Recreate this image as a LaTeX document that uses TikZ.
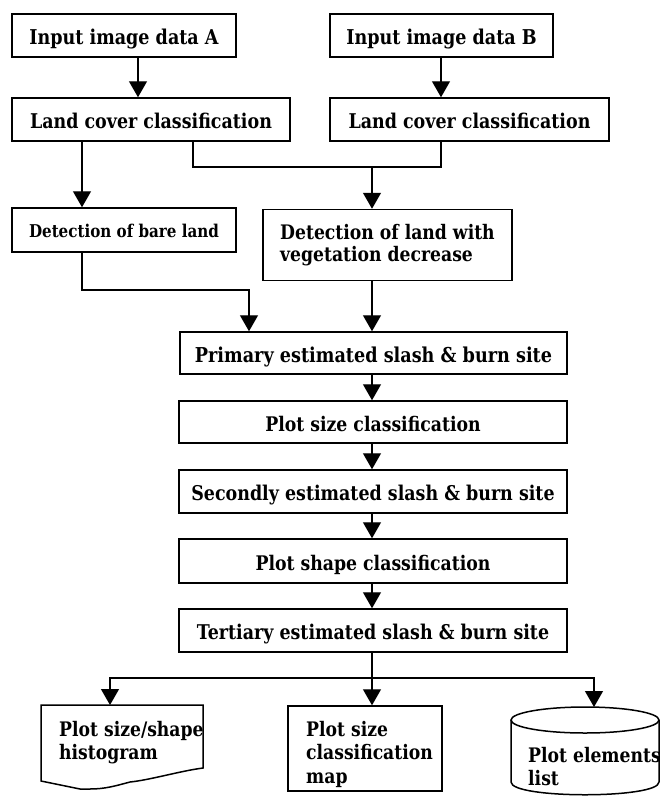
\documentclass[tikz,border=0pt]{standalone}
\usepackage{fontspec}
\setmainfont{DejaVu Serif}[FakeStretch=0.86]
\usetikzlibrary{arrows.meta}
\begin{document}
\begin{tikzpicture}[x=1pt,y=-1pt,
  box/.style={draw, line width=1.5pt, inner sep=0pt},
  one/.style={text height=18pt, text depth=0pt},
  conn/.style={line width=1.2pt},
  arr/.style={conn, -{Triangle[width=18pt,length=16pt]}},
  fs/.style 2 args={font=\bfseries\fontsize{#1}{#2}\selectfont}]
\useasboundingbox (0,0) rectangle (661,796);
% top boxes
\node[box, one, fs={20.4}{23}, minimum width=224pt, minimum height=43pt] (A) at (124,35.5) {Input image data A};
\node[box, one, fs={20.4}{23}, minimum width=223pt, minimum height=43pt] (B) at (441.5,35.5) {Input image data B};
\node[box, one, fs={20.3}{23}, minimum width=278pt, minimum height=43pt] (LCA) at (151,119.5) {Land cover classification};
\node[box, one, fs={20.3}{23}, minimum width=279pt, minimum height=43pt] (LCB) at (469.5,119.5) {Land cover classification};
\node[box, fs={17.6}{20}, text height=15pt, text depth=0pt, minimum width=224pt, minimum height=44pt] (bare) at (124,230) {Detection of bare land};
\node[box, fs={20}{22}, align=left, minimum width=249pt, minimum height=71pt] (veg) at (387.5,245) {Detection of land with\\vegetation decrease};
\node[box, one, fs={20.5}{23}, minimum width=387pt, minimum height=42pt] (prim) at (373.5,353) {Primary estimated slash \& burn site};
\node[box, one, fs={20.1}{23}, minimum width=388pt, minimum height=42pt] (psize) at (373,422) {Plot size classification};
\node[box, one, fs={20.3}{23}, minimum width=388pt, minimum height=43pt] (sec) at (373,491.5) {Secondly estimated slash \& burn site};
\node[box, one, fs={20.1}{23}, minimum width=388pt, minimum height=44pt] (pshape) at (373,561) {Plot shape classification};
\node[box, one, fs={20.3}{23}, minimum width=388pt, minimum height=43pt] (tert) at (373,630.5) {Tertiary estimated slash \& burn site};
% bottom outputs
\draw[line width=1.5pt] (41,705) -- (203,705) -- (203,768)
  .. controls (180,771) and (150,780) .. (130,782)
  .. controls (115,786) and (105,789) .. (90,789) -- (80,789) -- (41,781) -- cycle;
\node[fs={20}{23}, align=left, anchor=north west, inner sep=0pt] (doc) at (59,721) {Plot size/shape\\histogram};
\coordinate (docin) at (110,705);
\node[box, minimum width=154pt, minimum height=85pt] (map) at (365,748.5) {};
\node[fs={20}{23.5}, align=left, anchor=north west, inner sep=0pt] (maptxt) at (306,721) {Plot size\\classification\\map};
\draw[line width=1.5pt] (585,720) ellipse [x radius=74pt, y radius=13pt];
\draw[line width=1.5pt] (511,720) -- (511,782) .. controls (511,799) and (659,799) .. (659,782) -- (659,720);
\node[fs={20}{23}, align=left, anchor=north west, inner sep=0pt] (db) at (528,747) {Plot elements\\list};
\coordinate (dbin) at (594,707);
% connectors
\draw[arr] (A.south -| 138,0) -- (LCA.north -| 138,0);
\draw[arr] (B.south -| 441,0) -- (LCB.north -| 441,0);
\draw[arr] (LCA.south -| 82,0) -- (bare.north -| 82,0);
\draw[conn] (LCA.south -| 193,0) |- (372,167) coordinate (mj) -| (LCB.south -| 441,0);
\draw[arr] (mj) -- (veg.north -| 372,0);
\draw[arr] (bare.south -| 82,0) |- (249,290) -- (prim.north -| 249,0);
\draw[arr] (veg.south -| 372,0) -- (prim.north -| 372,0);
\draw[arr] (prim.south -| 372,0) -- (psize.north -| 372,0);
\draw[arr] (psize.south -| 372,0) -- (sec.north -| 372,0);
\draw[arr] (sec.south -| 372,0) -- (pshape.north -| 372,0);
\draw[arr] (pshape.south -| 372,0) -- (tert.north -| 372,0);
\draw[arr] (tert.south -| 372,0) -- (map.north -| 372,0);
\draw[arr] (372,678) -| (docin);
\draw[arr] (372,678) -| (dbin);
\end{tikzpicture}
\end{document}
